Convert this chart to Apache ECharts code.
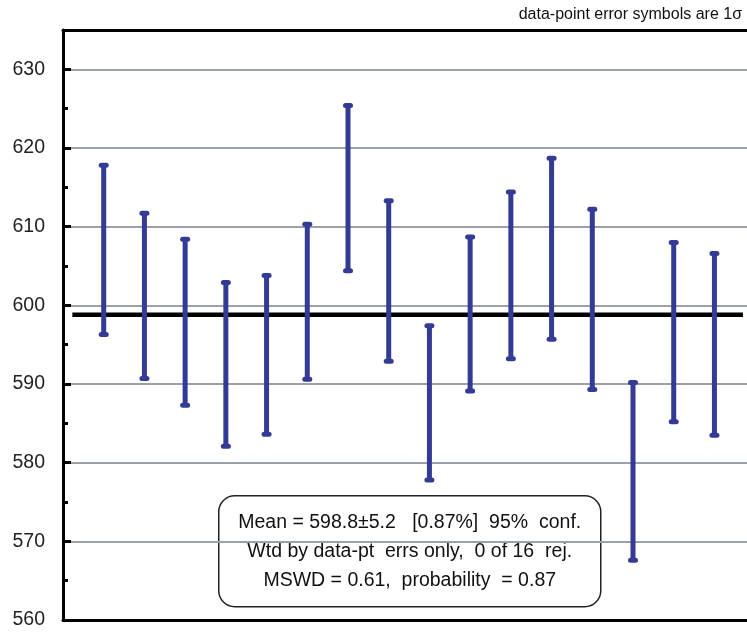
<!DOCTYPE html>
<html>
<head>
    <meta charset="utf-8">
    <style>
        body{
            margin:0;
            padding:0;
            background:#fff;
        }
        #chart{
            width: 747px;
            height: 632px;
        }
    </style>
</head>
<body>
    <div id="chart"></div>
    <script src="https://cdn.jsdelivr.net/npm/echarts@6/dist/echarts.min.js"></script>
    <script>
        // analysis number, 1..16
        var analysis = [1, 2, 3, 4, 5, 6, 7, 8, 9, 10, 11, 12, 13, 14, 15, 16];
        // lower / upper end of each 1 sigma error bar
        var lowEnd  = [596.3, 590.7, 587.3, 582.1, 583.6, 590.6, 604.4, 592.9, 577.8, 589.1, 593.2, 595.7, 589.3, 567.6, 585.2, 583.5];
        var highEnd = [617.8, 611.7, 608.4, 602.9, 603.8, 610.3, 625.4, 613.3, 597.4, 608.7, 614.4, 618.7, 612.2, 590.2, 608.0, 606.6];
        // weighted mean and the x span of its line
        var meanValue = 598.8;
        var meanSpan = [0.23, 16.7];

        var statLines = [
            'Mean = 598.8\u00b15.2   [0.87%]  95%  conf.',
            'Wtd by data-pt  errs only,  0 of 16  rej.',
            'MSWD = 0.61,  probability  = 0.87'
        ];

        var errData = [];
        for (var i = 0; i < analysis.length; i++) {
            errData.push([analysis[i], lowEnd[i], highEnd[i]]);
        }

        var barColor = '#343b95';
        var font = 'Liberation Sans, Arial, sans-serif';

        function renderErr(params, api) {
            var x = api.value(0);
            var lo = api.coord([x, api.value(1)]);
            var hi = api.coord([x, api.value(2)]);
            var cap = 2.5;
            return {
                type: 'group',
                children: [
                    {type: 'line', shape: {x1: lo[0], y1: lo[1], x2: hi[0], y2: hi[1]},
                        style: {stroke: barColor, lineWidth: 5}},
                    {type: 'line', shape: {x1: lo[0] - cap, y1: lo[1], x2: lo[0] + cap, y2: lo[1]},
                        style: {stroke: barColor, lineWidth: 5, lineCap: 'round'}},
                    {type: 'line', shape: {x1: hi[0] - cap, y1: hi[1], x2: hi[0] + cap, y2: hi[1]},
                        style: {stroke: barColor, lineWidth: 5, lineCap: 'round'}}
                ]
            };
        }

        var chart = echarts.init(document.getElementById('chart'));
        var option = {
            animation: false,
            grid: {left: 63, right: 0, top: 30, bottom: 12},
            xAxis: [{
                type: 'value', min: 0, max: 16.8, position: 'bottom',
                axisLine: {show: true, lineStyle: {color: '#000', width: 3}},
                axisTick: {show: false}, axisLabel: {show: false}, splitLine: {show: false}
            }, {
                type: 'value', min: 0, max: 16.8, position: 'top',
                axisLine: {show: true, lineStyle: {color: '#000', width: 3}},
                axisTick: {show: false}, axisLabel: {show: false}, splitLine: {show: false}
            }],
            yAxis: [{
                type: 'value', min: 560, max: 635, interval: 10,
                axisLine: {show: true, lineStyle: {color: '#000', width: 3}},
                axisTick: {show: true, inside: true, length: 8, lineStyle: {color: '#000', width: 3}},
                axisLabel: {
                    margin: 18, color: '#222', fontSize: 19.5,
                    fontFamily: font,
                    formatter: function (v) { return v % 10 === 0 ? v : ''; }
                },
                splitLine: {show: true, lineStyle: {color: '#9ca1a9', width: 2}}
            }, {
                // minor ticks every 5
                type: 'value', min: 560, max: 635, interval: 5, position: 'left',
                axisLine: {show: false},
                axisTick: {show: true, inside: true, length: 5, lineStyle: {color: '#000', width: 3}},
                axisLabel: {show: false},
                splitLine: {show: false}
            }],
            graphic: [{
                type: 'text', right: 5, top: 7,
                style: {
                    text: 'data-point error symbols are 1\u03c3',
                    fontSize: 16, fill: '#111',
                    fontFamily: font
                }
            }, {
                type: 'group', left: 218, top: 495, z: 100,
                children: [{
                    type: 'rect',
                    shape: {x: 0, y: 0, width: 382, height: 111, r: 16},
                    style: {fill: '#fff', stroke: '#222', lineWidth: 1.5}
                }, {
                    type: 'text', x: 191, y: 27,
                    style: {text: statLines[0], align: 'center', verticalAlign: 'middle',
                        fontSize: 19.5, fill: '#111', fontFamily: font}
                }, {
                    type: 'text', x: 191, y: 56,
                    style: {text: statLines[1], align: 'center', verticalAlign: 'middle',
                        fontSize: 19.5, fill: '#111', fontFamily: font}
                }, {
                    type: 'text', x: 191, y: 85,
                    style: {text: statLines[2], align: 'center', verticalAlign: 'middle',
                        fontSize: 19.5, fill: '#111', fontFamily: font}
                }]
            }],
            series: [{
                type: 'line',
                xAxisIndex: 0, yAxisIndex: 0,
                data: [[meanSpan[0], meanValue], [meanSpan[1], meanValue]],
                symbol: 'none',
                lineStyle: {color: '#000', width: 4.5},
                z: 3
            }, {
                type: 'custom',
                xAxisIndex: 0, yAxisIndex: 0,
                renderItem: renderErr,
                data: errData,
                z: 5
            }]
        };
        chart.setOption(option);
    </script>
</body>
</html>
